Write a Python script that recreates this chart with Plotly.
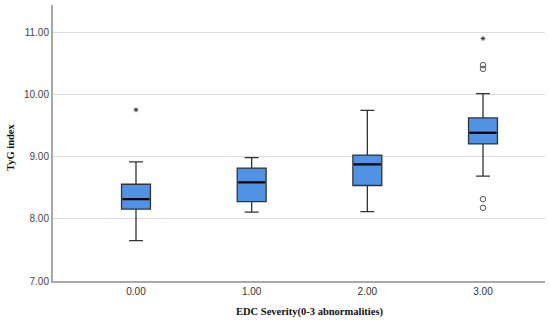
import plotly.graph_objects as go

categories = [0, 1, 2, 3]
tick_labels = ["0.00", "1.00", "2.00", "3.00"]
lower_whisker = [7.65, 8.11, 8.12, 8.69]
q1 = [8.16, 8.28, 8.54, 9.21]
median = [8.32, 8.59, 8.88, 9.39]
q3 = [8.56, 8.82, 9.03, 9.63]
upper_whisker = [8.92, 8.99, 9.75, 10.02]

circle_x = [3, 3, 3, 3]
circle_y = [10.42, 10.48, 8.32, 8.18]
star_x = [0, 3]
star_y = [9.76, 10.91]

y_ticks = [7, 8, 9, 10, 11]
y_tick_labels = ["7.00", "8.00", "9.00", "10.00", "11.00"]

BOX_W = 0.25
fig = go.Figure()
fig.add_trace(go.Box(
    x=categories, q1=q1, median=median, q3=q3,
    lowerfence=lower_whisker, upperfence=upper_whisker,
    width=BOX_W, whiskerwidth=0.48,
    fillcolor="#5092e3", line=dict(color="#333333", width=1.3),
    boxpoints=False, showlegend=False, hoverinfo="skip"))

# thicker median lines
mx, my = [], []
for c, m in zip(categories, median):
    mx += [c - BOX_W / 2 + 0.01, c + BOX_W / 2 - 0.01, None]
    my += [m, m, None]
fig.add_trace(go.Scatter(x=mx, y=my, mode="lines",
                         line=dict(color="#000000", width=2.2),
                         showlegend=False, hoverinfo="skip"))

fig.add_trace(go.Scatter(x=circle_x, y=circle_y, mode="markers",
                         marker=dict(symbol="circle-open", size=5.5,
                                     color="#555555", line=dict(width=1)),
                         showlegend=False, hoverinfo="skip"))
fig.add_trace(go.Scatter(x=star_x, y=star_y, mode="markers",
                         marker=dict(symbol="asterisk-open", size=4,
                                     color="#222222", line=dict(width=0.8, color="#222222")),
                         showlegend=False, hoverinfo="skip"))

fig.update_layout(
    width=550, height=322,
    margin=dict(l=53, r=5, t=5, b=41),
    plot_bgcolor="white", paper_bgcolor="white",
    font=dict(family="Liberation Sans, Arial, sans-serif", size=10, color="#444444"),
    xaxis=dict(range=[-0.7176, 3.536], tickvals=categories, ticktext=tick_labels,
               showgrid=False, zeroline=False, showline=True, linecolor="#a8a8a8",
               linewidth=2, ticks="", tickfont=dict(size=10, color="#333333")),
    yaxis=dict(range=[7, 11.45], tickvals=y_ticks, ticktext=y_tick_labels,
               showgrid=True, gridcolor="#dcdcdc", gridwidth=1.2, zeroline=False,
               showline=True, linecolor="#a8a8a8", linewidth=2, ticks="",
               tickfont=dict(size=10, color="#444444")),
    annotations=[
        dict(text="<b>EDC Severity(0-3 abnormalities)</b>", xref="paper", yref="paper",
             x=(309 - 53) / 492, y=-31 / 276, xanchor="center", yanchor="middle",
             showarrow=False, font=dict(family="Liberation Serif, serif", size=10.5, color="#111111")),
        dict(text="<b>TyG index</b>", xref="paper", yref="paper",
             x=(10 - 53) / 492, y=(281 - 147) / 276, xanchor="center", yanchor="middle",
             textangle=-90, showarrow=False,
             font=dict(family="Liberation Serif, serif", size=10.5, color="#111111")),
    ],
)

fig.write_html("out.html", config={"displayModeBar": False},
               post_script="document.body.style.margin='0px';")
